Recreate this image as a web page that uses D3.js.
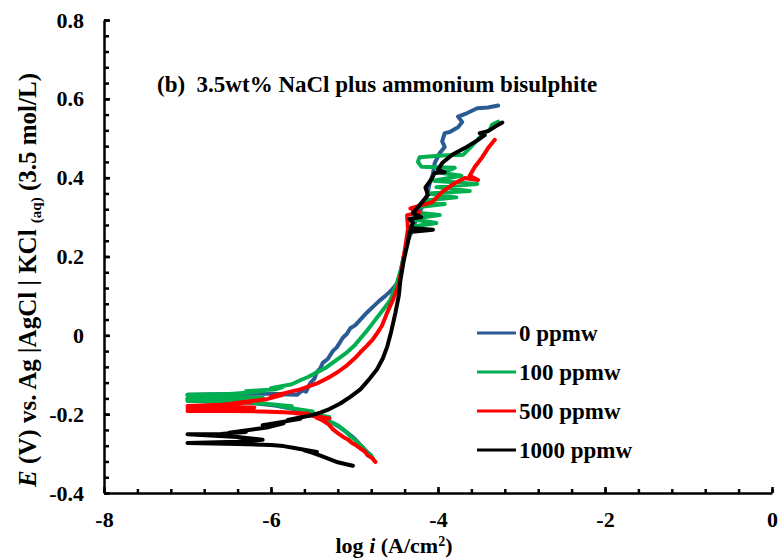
<!DOCTYPE html>
<html>
<head>
<meta charset="utf-8">
<script src="https://cdn.jsdelivr.net/npm/d3@7"></script>
<style>
body { margin: 0; background: #fff; }
text { font-family: "Liberation Serif", "Times New Roman", serif; font-weight: bold; fill: #000; }
</style>
</head>
<body>
<div id="chart"></div>
<script>
// log i (A/cm2), E (V) pairs, cathodic end first
const ppm0 = [[-4.80,-0.306],[-4.90,-0.285],[-5.00,-0.262],[-5.10,-0.245],[-5.20,-0.230],[-5.35,-0.212],[-5.50,-0.200],[-5.70,-0.188],[-5.95,-0.178],[-6.30,-0.170],[-7.00,-0.166],[-6.40,-0.163],[-7.00,-0.161],[-6.20,-0.157],[-7.00,-0.151],[-6.40,-0.149],[-6.00,-0.148],[-5.80,-0.150],[-5.69,-0.151],
  [-5.62,-0.139],[-5.58,-0.143],[-5.53,-0.121],[-5.48,-0.110],[-5.45,-0.093],[-5.41,-0.084],[-5.38,-0.070],[-5.32,-0.060],[-5.26,-0.040],[-5.21,-0.030],[-5.14,-0.006],[-5.09,0.004],[-5.05,0.018],[-4.99,0.026],[-4.93,0.040],[-4.85,0.058],[-4.77,0.074],[-4.70,0.088],[-4.63,0.100],[-4.56,0.114],[-4.49,0.132],[-4.45,0.160],[-4.41,0.200],[-4.36,0.240],[-4.30,0.272],[-4.25,0.300],[-4.18,0.330],[-4.13,0.356],[-4.10,0.385],[-4.06,0.410],[-4.04,0.437],[-3.98,0.462],[-3.92,0.478],[-3.95,0.492],[-3.92,0.513],[-3.86,0.516],[-3.76,0.528],[-3.71,0.541],[-3.76,0.555],[-3.65,0.564],[-3.53,0.576],[-3.40,0.578],[-3.28,0.583]];

const ppm100 = [[-4.78,-0.312],[-4.81,-0.302],[-4.86,-0.296],[-4.90,-0.284],[-4.95,-0.276],[-4.99,-0.266],[-5.04,-0.258],[-5.09,-0.247],[-5.14,-0.238],[-5.20,-0.228],[-5.27,-0.221],[-5.35,-0.212],[-5.45,-0.204],[-5.30,-0.208],[-5.55,-0.197],[-5.65,-0.190],[-5.50,-0.193],[-5.78,-0.184],[-5.92,-0.178],[-5.75,-0.180],[-6.10,-0.173],[-6.40,-0.169],[-7.00,-0.166],[-6.30,-0.164],[-7.00,-0.161],[-6.10,-0.158],[-6.60,-0.155],[-7.00,-0.151],[-6.50,-0.149],[-6.25,-0.145],[-6.05,-0.140],[-6.30,-0.142],[-5.95,-0.137],[-5.86,-0.131],[-6.00,-0.134],[-5.75,-0.124],[-5.65,-0.114],[-5.55,-0.105],[-5.45,-0.094],[-5.35,-0.083],[-5.26,-0.069],[-5.18,-0.057],[-5.09,-0.043],[-5.00,-0.026],[-4.93,-0.008],[-4.85,0.012],[-4.78,0.031],[-4.72,0.048],[-4.66,0.064],[-4.57,0.090],[-4.49,0.133],[-4.44,0.170],[-4.40,0.210],[-4.36,0.240],
  [-4.34,0.275],[-4.02,0.285],[-4.33,0.295],[-3.98,0.305],[-4.30,0.312],[-4.25,0.325],[-3.92,0.333],[-4.15,0.342],[-3.78,0.350],[-4.12,0.360],[-3.62,0.366],[-4.02,0.376],[-3.53,0.384],[-4.05,0.392],[-3.72,0.405],[-3.95,0.412],[-3.80,0.425],[-4.20,0.428],[-4.24,0.440],[-4.22,0.452],[-3.95,0.456],[-3.70,0.458],[-3.62,0.475],[-3.55,0.490],[-3.47,0.510],[-3.38,0.522],[-3.35,0.535],[-3.28,0.542]];

const ppm500 = [[-4.75,-0.321],[-4.79,-0.311],[-4.84,-0.305],[-4.88,-0.294],[-4.93,-0.287],[-4.98,-0.279],[-5.03,-0.273],[-5.08,-0.264],[-5.14,-0.257],[-5.20,-0.248],[-5.26,-0.238],[-5.31,-0.226],[-5.38,-0.216],[-5.46,-0.208],[-5.30,-0.211],[-5.56,-0.202],[-5.70,-0.198],[-5.55,-0.199],[-5.85,-0.195],[-6.10,-0.193],[-6.50,-0.192],[-7.00,-0.192],[-6.30,-0.189],[-7.00,-0.185],[-6.20,-0.183],[-6.70,-0.181],[-7.00,-0.179],[-6.60,-0.176],[-6.25,-0.170],[-6.45,-0.172],[-6.05,-0.162],[-5.86,-0.151],[-6.00,-0.155],[-5.65,-0.137],[-5.45,-0.122],[-5.30,-0.106],[-5.20,-0.093],[-5.09,-0.076],[-5.00,-0.059],[-4.93,-0.043],[-4.85,-0.026],[-4.78,-0.010],[-4.72,0.008],[-4.67,0.025],[-4.61,0.057],[-4.54,0.090],[-4.48,0.123],[-4.44,0.160],[-4.41,0.200],[-4.38,0.240],
  [-4.36,0.270],[-4.37,0.305],[-4.22,0.312],[-4.33,0.322],[-4.07,0.338],[-3.95,0.364],[-3.80,0.386],[-3.68,0.399],[-3.52,0.394],[-3.62,0.405],[-3.56,0.427],[-3.47,0.452],[-3.40,0.475],[-3.32,0.496]];

const ppm1000 = [[-5.02,-0.331],[-5.10,-0.327],[-5.20,-0.322],[-5.30,-0.314],[-5.40,-0.306],[-5.50,-0.298],[-5.60,-0.292],[-5.45,-0.296],[-5.72,-0.286],[-5.85,-0.281],[-6.00,-0.278],[-6.40,-0.276],[-7.00,-0.273],[-6.40,-0.270],[-6.10,-0.265],[-6.40,-0.258],[-7.00,-0.251],[-6.60,-0.250],[-6.30,-0.245],[-6.50,-0.247],[-6.05,-0.234],[-5.85,-0.223],[-6.10,-0.228],[-5.65,-0.212],[-5.80,-0.215],[-5.50,-0.202],[-5.41,-0.196],[-5.30,-0.187],[-5.17,-0.173],[-5.05,-0.156],[-4.93,-0.137],[-4.83,-0.113],[-4.73,-0.086],[-4.66,-0.058],[-4.61,-0.030],[-4.56,0.010],[-4.51,0.057],[-4.47,0.100],[-4.45,0.140],[-4.41,0.190],[-4.36,0.237],
  [-4.34,0.262],[-4.06,0.268],[-4.33,0.272],[-4.30,0.285],[-4.34,0.295],[-4.20,0.300],[-4.30,0.310],[-4.19,0.338],[-4.12,0.356],[-4.15,0.375],[-4.07,0.399],[-4.04,0.412],[-3.92,0.414],[-4.00,0.420],[-3.95,0.437],[-3.83,0.458],[-3.68,0.475],[-3.52,0.496],[-3.44,0.508],[-3.50,0.513],[-3.40,0.518],[-3.32,0.529],[-3.23,0.540]];

const seriesNames = ["0 ppmw", "100 ppmw", "500 ppmw", "1000 ppmw"];
const seriesData = [ppm0, ppm100, ppm500, ppm1000];
const seriesColors = ["#2b5b93", "#00b050", "#ff0000", "#000000"];

const xTicks = [-8, -6, -4, -2, 0];
const yTicks = [-0.4, -0.2, 0, 0.2, 0.4, 0.6, 0.8];

const width = 780, height = 558;
const margin = {left: 104, right: 8, top: 20, bottom: 65};
const font = '"Liberation Serif", "Times New Roman", serif';

const svg = d3.select('#chart').append('svg')
  .attr('width', width)
  .attr('height', height);

const x = d3.scaleLinear().domain([-8, 0]).range([margin.left, width - margin.right]);
const y = d3.scaleLinear().domain([-0.4, 0.8]).range([height - margin.bottom, margin.top]);

// curves
const line = d3.line().x(d => x(d[0])).y(d => y(d[1]));
svg.append('g').selectAll('path')
  .data(seriesData)
  .enter()
  .append('path')
  .attr('d', line)
  .attr('fill', 'none')
  .attr('stroke', (d, i) => seriesColors[i])
  .attr('stroke-width', 4)
  .attr('stroke-linejoin', 'round')
  .attr('stroke-linecap', 'round');

// axes: minor ticks first, then major with labels
const xMinor = d3.range(-8, 0.01, 0.4).map(v => +v.toFixed(1));
const yMinor = d3.range(-0.4, 0.81, 0.04).map(v => +v.toFixed(2));

svg.append('g')
  .attr('transform', `translate(0,${y(-0.4)})`)
  .call(d3.axisBottom(x).tickValues(xMinor).tickSize(-4).tickSizeOuter(0).tickFormat(''))
  .call(g => g.select('.domain').remove());
svg.append('g')
  .attr('transform', `translate(${x(-8)},0)`)
  .call(d3.axisLeft(y).tickValues(yMinor).tickSize(-5).tickSizeOuter(0).tickFormat(''))
  .call(g => g.select('.domain').remove());

svg.append('g')
  .attr('transform', `translate(0,${y(-0.4)})`)
  .call(d3.axisBottom(x).tickValues(xTicks).tickSize(-6).tickSizeOuter(0).tickPadding(18).tickFormat(d => String(d)));
svg.append('g')
  .attr('transform', `translate(${x(-8)},0)`)
  .call(d3.axisLeft(y).tickValues(yTicks).tickSize(-6).tickSizeOuter(0).tickPadding(20).tickFormat(d => String(d)));

svg.selectAll('.tick line, .domain').attr('stroke', '#000').attr('stroke-width', 2.5);
svg.selectAll('.tick text')
  .attr('font-family', font)
  .attr('font-size', 22)
  .attr('font-weight', 'bold')
  .attr('fill', '#000');

// title
svg.append('text')
  .attr('x', 157)
  .attr('y', 92)
  .style('font-size', '23px')
  .attr('xml:space', 'preserve')
  .text('(b)  3.5wt% NaCl plus ammonium bisulphite');

// x label
const xl = svg.append('text')
  .attr('x', 394)
  .attr('y', 553)
  .attr('text-anchor', 'middle')
  .style('font-size', '22px');
xl.append('tspan').text('log ');
xl.append('tspan').style('font-style', 'italic').text('i');
xl.append('tspan').text(' (A/cm');
xl.append('tspan').attr('dy', -7).style('font-size', '14px').text('2');
xl.append('tspan').attr('dy', 7).text(')');

// y label
const yl = svg.append('text')
  .attr('transform', 'translate(36,280) rotate(-90)')
  .attr('text-anchor', 'middle')
  .style('font-size', '25px');
yl.append('tspan').style('font-style', 'italic').text('E');
yl.append('tspan').text(' (V) vs. Ag |AgCl | KCl ');
yl.append('tspan').attr('dy', 5).style('font-size', '15px').text('(aq)');
yl.append('tspan').attr('dy', -5).text(' (3.5 mol/L)');

// legend
const legendY = [333, 372, 411, 450];
const legend = svg.append('g').selectAll('g')
  .data(seriesNames)
  .enter()
  .append('g')
  .attr('transform', (d, i) => `translate(477,${legendY[i]})`);
legend.append('line')
  .attr('x1', 0).attr('x2', 39)
  .attr('stroke', (d, i) => seriesColors[i])
  .attr('stroke-width', 3);
legend.append('text')
  .attr('x', 42)
  .attr('dy', '0.35em')
  .style('font-size', '23px')
  .text(d => d);
</script>
</body>
</html>
